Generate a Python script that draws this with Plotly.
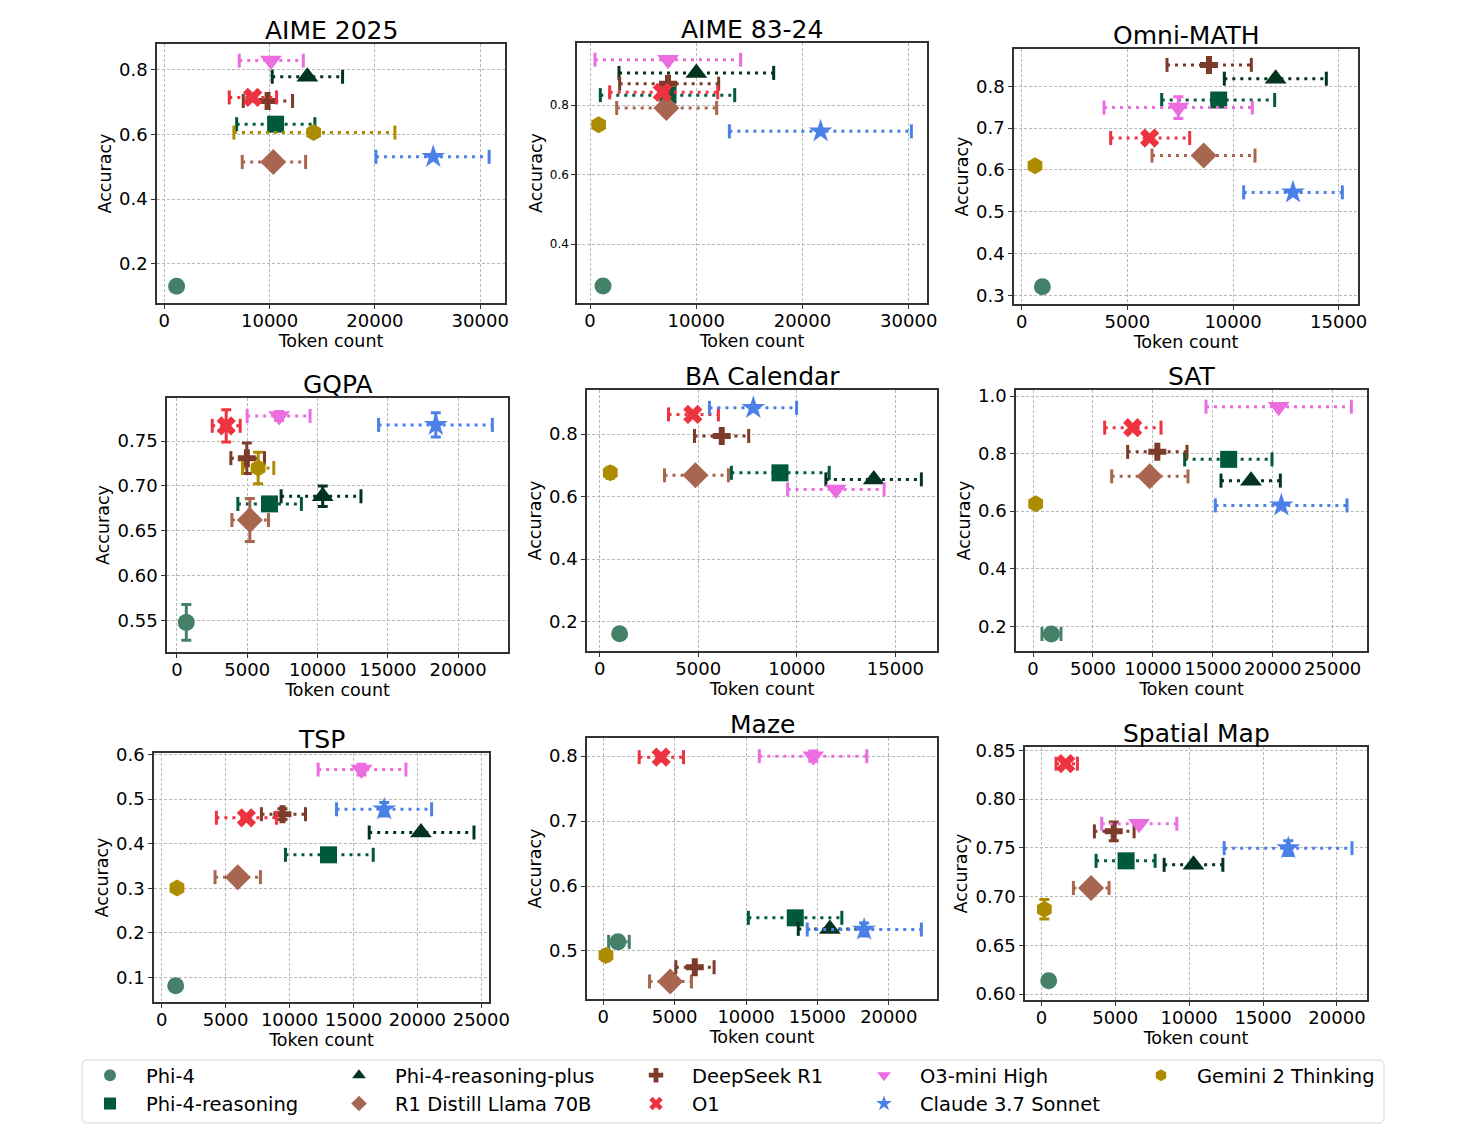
import plotly.graph_objects as go

# ---------------- data ----------------
MODELS = ["Phi-4", "Phi-4-reasoning", "Phi-4-reasoning-plus", "R1 Distill Llama 70B",
          "DeepSeek R1", "O1", "O3-mini High", "Claude 3.7 Sonnet", "Gemini 2 Thinking"]
SYMBOLS = ["circle", "square", "triangle-up", "diamond", "cross", "x",
           "triangle-down", "star", "hexagon"]
COLORS = ["#458169", "#005A3A", "#03341F", "#A86650", "#7D3B29", "#EE3340",
          "#EC6DE0", "#4A80E8", "#AE8C00"]

BENCHMARKS = ["AIME 2025", "AIME 83-24", "Omni-MATH", "GQPA", "BA Calendar", "SAT",
              "TSP", "Maze", "Spatial Map"]

# AIME 2025
AIME25_TOK = [1170, 10570, 13580, 10350, 9810, 8390, 10130, 25540, 14180]
AIME25_ACC = [0.130, 0.632, 0.779, 0.515, 0.704, 0.715, 0.829, 0.531, 0.606]
AIME25_LO = [None, 6870, 10250, 7400, 7500, 6170, 7120, 20100, 6610]
AIME25_HI = [None, 14300, 16930, 13420, 12180, 10660, 13200, 30850, 21900]
AIME25_YERR = [0, 0, 0, 0, 0, 0, 0, 0, 0]

# AIME 83-24
AIME83_TOK = [1224, 7342, 10010, 7190, 7342, 6810, 7342, 21710, 816]
AIME83_ACC = [0.280, 0.829, 0.893, 0.792, 0.862, 0.837, 0.931, 0.725, 0.744]
AIME83_LO = [None, 970, 2730, 2510, 2790, 1850, 470, 13120, None]
AIME83_HI = [None, 13620, 17290, 11920, 12110, 12020, 14180, 30250, None]
AIME83_YERR = [0, 0, 0, 0, 0, 0, 0, 0, 0]

# Omni-MATH
OMNI_TOK = [978, 9322, 12019, 8612, 8864, 6057, 7413, 12839, 631]
OMNI_ACC = [0.320, 0.767, 0.818, 0.634, 0.851, 0.676, 0.749, 0.546, 0.610]
OMNI_LO = [None, 6625, 9590, 6167, 6877, 4211, 3896, 10505, None]
OMNI_HI = [None, 11972, 14416, 11041, 10868, 7950, 10915, 15174, None]
OMNI_YERR = [0, 0, 0, 0, 0, 0, 0.026, 0, 0]

# GQPA
GQPA_TOK = [663, 6580, 10367, 5183, 4970, 3503, 7266, 18414, 5775]
GQPA_ACC = [0.548, 0.680, 0.6885, 0.662, 0.731, 0.767, 0.778, 0.768, 0.720]
GQPA_LO = [None, 4331, 7408, 3905, 3834, 2509, 4994, 14343, 4663]
GQPA_HI = [None, 8852, 13089, 6509, 6225, 4497, 9467, 22438, 6888]
GQPA_YERR = [0.020, 0.006, 0.0115, 0.024, 0.017, 0.018, 0.005, 0.0135, 0.0175]

# BA Calendar
BACAL_TOK = [1012, 9145, 13903, 4859, 6192, 4724, 11979, 7795, 540]
BACAL_ACC = [0.161, 0.676, 0.655, 0.668, 0.794, 0.863, 0.623, 0.884, 0.676]
BACAL_LO = [None, 6681, 11473, 3290, 4809, 3493, 9533, 5568, 380]
BACAL_HI = [None, 11642, 16315, 6530, 7559, 6023, 14426, 9988, 700]
BACAL_YERR = [0, 0, 0, 0, 0, 0, 0, 0, 0]

# SAT
SAT_TOK = [1529, 16324, 18187, 9733, 10373, 8315, 20495, 20717, 222]
SAT_ACC = [0.173, 0.780, 0.706, 0.721, 0.806, 0.890, 0.963, 0.620, 0.626]
SAT_LO = [750, 12653, 15684, 6563, 7898, 5979, 14433, 15211, None]
SAT_HI = [2336, 19939, 20634, 12931, 12848, 10679, 26557, 26196, None]
SAT_YERR = [0, 0, 0, 0, 0, 0, 0, 0, 0]

# TSP
TSP_TOK = [1096, 13048, 20277, 5950, 9447, 6628, 15630, 17406, 1200]
TSP_ACC = [0.082, 0.375, 0.425, 0.325, 0.466, 0.458, 0.566, 0.477, 0.301]
TSP_LO = [None, 9681, 16232, 4175, 7803, 4280, 12239, 13674, None]
TSP_HI = [None, 16545, 24426, 7724, 11247, 8977, 19102, 21112, None]
TSP_YERR = [0, 0, 0, 0, 0.012, 0.008, 0.012, 0.015, 0]

# Maze
MAZE_TOK = [1026, 13450, 15874, 4685, 6410, 4056, 14709, 18275, 186]
MAZE_ACC = [0.514, 0.551, 0.534, 0.453, 0.475, 0.7985, 0.800, 0.533, 0.493]
MAZE_LO = [373, 10163, 13660, 3240, 5082, 2517, 10932, 14289, None]
MAZE_HI = [1818, 16713, 18182, 6177, 7762, 5618, 18462, 22284, None]
MAZE_YERR = [0.006, 0, 0, 0, 0, 0.006, 0.008, 0.010, 0.008]

# Spatial Map
SMAP_TOK = [497, 5734, 10293, 3363, 4898, 1648, 6614, 16704, 203]
SMAP_ACC = [0.6137, 0.7367, 0.7326, 0.7089, 0.7669, 0.8363, 0.7747, 0.7497, 0.687]
SMAP_LO = [None, 3702, 8307, 2167, 3589, 993, 4086, 12370, None]
SMAP_HI = [None, 7698, 12280, 4582, 6275, 2438, 9165, 21016, None]
SMAP_YERR = [0.004, 0, 0, 0, 0.0097, 0.003, 0, 0.0075, 0.010]

PANEL_DATA = [
    (AIME25_TOK, AIME25_ACC, AIME25_LO, AIME25_HI, AIME25_YERR),
    (AIME83_TOK, AIME83_ACC, AIME83_LO, AIME83_HI, AIME83_YERR),
    (OMNI_TOK, OMNI_ACC, OMNI_LO, OMNI_HI, OMNI_YERR),
    (GQPA_TOK, GQPA_ACC, GQPA_LO, GQPA_HI, GQPA_YERR),
    (BACAL_TOK, BACAL_ACC, BACAL_LO, BACAL_HI, BACAL_YERR),
    (SAT_TOK, SAT_ACC, SAT_LO, SAT_HI, SAT_YERR),
    (TSP_TOK, TSP_ACC, TSP_LO, TSP_HI, TSP_YERR),
    (MAZE_TOK, MAZE_ACC, MAZE_LO, MAZE_HI, MAZE_YERR),
    (SMAP_TOK, SMAP_ACC, SMAP_LO, SMAP_HI, SMAP_YERR),
]

# ---------------- layout settings ----------------
W, H = 1470, 1140
FONT = "DejaVu Sans"
# axes boxes in pixels: left, right, top, bottom
BOXES = [(157, 505, 44, 303), (577, 927, 43, 303), (1014, 1358, 49, 304),
         (167, 508, 398, 652), (587, 937, 390, 651), (1016, 1367, 390, 651),
         (154, 489, 753, 1002), (587, 937, 738, 999), (1025, 1367, 747, 1000)]
XRANGES = [(-693, 32355), (-1224, 31723), (-363, 15915), (-710, 23550), (-641, 17108),
           (-1418, 27864), (-600, 25600), (-1142, 23380), (-1106, 22032)]
YRANGES = [(0.078, 0.8805), (0.231, 0.979), (0.279, 0.889), (0.515, 0.798), (0.106, 0.941),
           (0.114, 1.021), (0.0455, 0.603), (0.426, 0.828), (0.594, 0.8534)]
XDTICK = [10000, 10000, 5000, 5000, 5000, 5000, 5000, 5000, 5000]
YDTICK = [0.2, 0.2, 0.1, 0.05, 0.2, 0.2, 0.1, 0.1, 0.05]
YFMT = [".1f", ".1f", ".1f", ".2f", ".1f", ".1f", ".1f", ".1f", ".2f"]
YTICKSIZE = [18, 12, 18, 18, 18, 18, 18, 18, 18]
SIZES = {"circle": 17, "square": 17, "triangle-up": 19, "diamond": 20, "cross": 15,
         "x": 17, "triangle-down": 19, "star": 18, "hexagon": 17}

fig = go.Figure()

for p, (tok, acc, lo, hi, yerr) in enumerate(PANEL_DATA):
    xa = "x" if p == 0 else f"x{p+1}"
    ya = "y" if p == 0 else f"y{p+1}"
    for m in range(len(MODELS)):
        c = COLORS[m]
        if lo[m] is not None:
            fig.add_trace(go.Scatter(
                x=[lo[m], hi[m]], y=[acc[m], acc[m]], mode="lines",
                line=dict(color=c, width=3, dash="3px,5px"),
                xaxis=xa, yaxis=ya, showlegend=False, hoverinfo="skip"))
            fig.add_trace(go.Scatter(
                x=[lo[m], hi[m]], y=[acc[m], acc[m]], mode="markers",
                marker=dict(symbol="line-ns", size=10, line=dict(width=3, color=c)),
                xaxis=xa, yaxis=ya, showlegend=False, hoverinfo="skip"))
        fig.add_trace(go.Scatter(
            x=[tok[m]], y=[acc[m]], mode="markers",
            marker=dict(symbol=SYMBOLS[m], size=SIZES[SYMBOLS[m]], color=c),
            error_y=dict(type="data", array=[yerr[m]], visible=yerr[m] > 0,
                         thickness=3, width=5, color=c),
            xaxis=xa, yaxis=ya, showlegend=False, name=MODELS[m]))

    l, r, t, b = BOXES[p]
    xd = [l / W, r / W]
    yd = [1 - b / H, 1 - t / H]
    axcommon = dict(showline=True, mirror=True, linecolor="#333333", linewidth=1.5,
                    ticks="outside", ticklen=4, tickwidth=1.2, tickcolor="#333333",
                    showgrid=True, gridcolor="#b8b8b8", griddash="3px,2px", gridwidth=1,
                    zeroline=False, automargin=False)
    xkey = "xaxis" if p == 0 else f"xaxis{p+1}"
    ykey = "yaxis" if p == 0 else f"yaxis{p+1}"
    fig.update_layout(**{
        xkey: dict(domain=xd, range=list(XRANGES[p]), anchor=ya, dtick=XDTICK[p], tick0=0,
                   tickformat="d", tickfont=dict(size=18, color="black"),
                   ticklabelstandoff=-3,
                   title=dict(text="Token count", font=dict(size=17.5, color="black"), standoff=0),
                   **axcommon),
        ykey: dict(domain=yd, range=list(YRANGES[p]), anchor=xa, dtick=YDTICK[p], tick0=0,
                   tickformat=YFMT[p], tickfont=dict(size=YTICKSIZE[p], color="black"),
                   title=dict(text="Accuracy", font=dict(size=17.5, color="black"), standoff=3),
                   **axcommon),
    })
    fig.add_annotation(x=(xd[0] + xd[1]) / 2, y=yd[1], xref="paper", yref="paper",
                       text=BENCHMARKS[p], showarrow=False, xanchor="center",
                       yanchor="bottom", yshift=-3, font=dict(size=25, color="black"))

# ---------------- legend (5 columns, column-major) ----------------
COLUMNS = [[0, 1], [2, 3], [4, 5], [6, 7], [8]]
TEXT_X = [146, 395, 692, 920, 1197]
legend_layout = {}
for k, col in enumerate(COLUMNS):
    lkey = "legend" if k == 0 else f"legend{k+1}"
    for m in col:
        fig.add_trace(go.Scatter(
            x=[None], y=[None], mode="markers", name=MODELS[m],
            marker=dict(symbol=SYMBOLS[m], size=12, color=COLORS[m]),
            legend=lkey, showlegend=True))
    legend_layout[lkey] = dict(x=(TEXT_X[k] - 72) / W, y=1 - 1056 / H, xanchor="left",
                               yanchor="top", orientation="v", itemwidth=62,
                               bgcolor="rgba(0,0,0,0)", borderwidth=0,
                               font=dict(size=19.5, color="black", family=FONT),
                               tracegroupgap=0)
fig.update_layout(**legend_layout)

# legend frame (rounded)
x0, x1, y0, y1, rr = 82 / W, 1384 / W, 1 - 1123 / H, 1 - 1060 / H, 5
rx, ry = rr / W, rr / H
path = (f"M {x0+rx},{y0} L {x1-rx},{y0} Q {x1},{y0} {x1},{y0+ry} L {x1},{y1-ry} "
        f"Q {x1},{y1} {x1-rx},{y1} L {x0+rx},{y1} Q {x0},{y1} {x0},{y1-ry} "
        f"L {x0},{y0+ry} Q {x0},{y0} {x0+rx},{y0} Z")
fig.add_shape(type="path", path=path, xref="paper", yref="paper",
              line=dict(color="#d4d4d4", width=1), fillcolor="rgba(255,255,255,0.8)",
              layer="below")

fig.update_layout(width=W, height=H,
                  margin=dict(l=0, r=0, t=0, b=0, autoexpand=False),
                  paper_bgcolor="white", plot_bgcolor="white",
                  font=dict(family=FONT, color="black"))

fig.write_html("out.html")
